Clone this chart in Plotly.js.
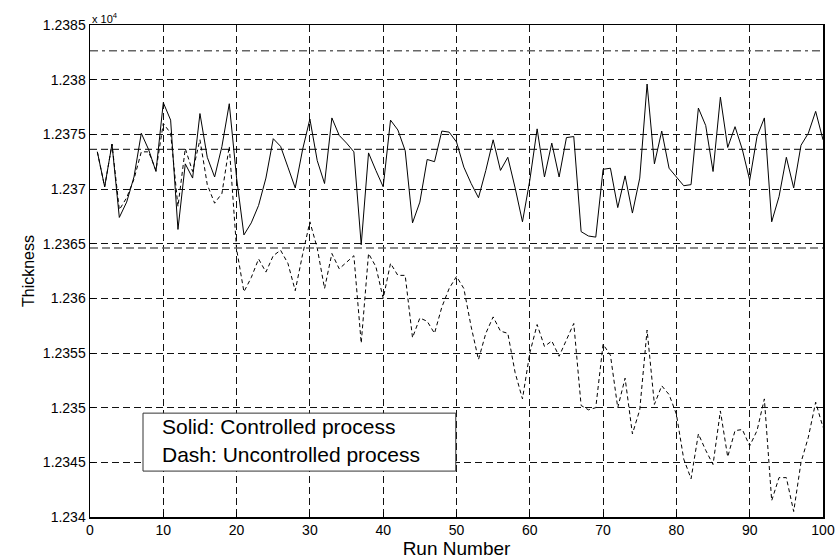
<!DOCTYPE html>
<html>
<head>
<meta charset="utf-8">
<script src="https://cdn.plot.ly/plotly-3.0.1.min.js"></script>
<style>html,body{margin:0;padding:0;background:#fff;}#chart{width:838px;height:560px;}</style>
</head>
<body>
<div id="chart"></div>
<script>
// Run numbers 1..100
const runs = [1,2,3,4,5,6,7,8,9,10,11,12,13,14,15,16,17,18,19,20,21,22,23,24,25,26,27,28,29,30,31,32,33,34,35,36,37,38,39,40,41,42,43,44,45,46,47,48,49,50,51,52,53,54,55,56,57,58,59,60,61,62,63,64,65,66,67,68,69,70,71,72,73,74,75,76,77,78,79,80,81,82,83,84,85,86,87,88,89,90,91,92,93,94,95,96,97,98,99,100];

// Controlled process (solid)
const controlled = [
12373.4,12370.2,12374.1,12367.4,12368.8,12371.1,12375.1,12373.6,12371.6,12377.9,
12376.3,12366.3,12372.3,12371.0,12376.9,12372.9,12371.1,12373.9,12377.8,12371.0,
12365.8,12366.9,12368.5,12371.0,12374.6,12373.9,12372.0,12370.1,12373.6,12376.4,
12372.6,12370.5,12376.5,12374.9,12374.2,12373.4,12364.9,12373.3,12371.7,12370.2,
12376.3,12375.4,12373.5,12366.9,12368.8,12372.7,12372.5,12375.3,12375.2,12374.3,
12372.0,12370.5,12369.2,12371.7,12374.5,12371.7,12372.9,12370.1,12367.0,12370.8,
12375.5,12371.1,12374.2,12371.1,12374.7,12374.8,12366.1,12365.7,12365.6,12371.8,
12371.9,12368.3,12371.2,12367.8,12371.0,12379.6,12372.3,12375.3,12371.9,12371.1,
12370.3,12370.4,12377.4,12375.8,12371.6,12378.4,12373.8,12375.7,12373.6,12370.8,
12374.8,12376.5,12367.0,12369.3,12372.9,12370.1,12374.0,12375.1,12377.1,12374.5];

// Uncontrolled process (dashed)
const uncontrolled = [
12373.4,12370.2,12374.1,12368.1,12369.2,12370.9,12373.4,12373.4,12371.7,12376.0,
12375.1,12368.4,12373.7,12371.6,12374.5,12370.4,12368.7,12369.6,12373.9,12364.5,
12360.6,12361.9,12363.6,12362.4,12363.9,12364.4,12363.2,12360.7,12364.0,12367.0,
12364.6,12360.9,12364.1,12362.7,12363.3,12363.9,12355.9,12364.1,12362.9,12360.0,
12363.2,12362.1,12362.1,12356.4,12358.2,12357.9,12356.8,12359.2,12360.9,12362.0,
12360.9,12357.4,12354.4,12356.8,12358.3,12357.0,12356.8,12353.2,12350.8,12355.0,
12357.6,12355.6,12356.1,12354.7,12356.2,12357.7,12350.2,12349.8,12350.0,12355.8,
12354.8,12350.0,12352.7,12347.6,12349.8,12357.1,12350.3,12352.0,12351.2,12349.4,
12345.3,12343.5,12347.6,12346.1,12344.8,12349.7,12345.5,12347.9,12348.0,12346.5,
12347.9,12350.8,12341.5,12343.6,12343.6,12340.5,12345.0,12347.3,12350.5,12348.2];

// Control limits: upper, center, lower
const limitValues = [12382.65, 12373.63, 12364.61];

// Axis ticks
const yTickVals = [12340,12345,12350,12355,12360,12365,12370,12375,12380,12385];
const yTickText = ['1.234','1.2345','1.235','1.2355','1.236','1.2365','1.237','1.2375','1.238','1.2385'];
const xTickVals = [0,10,20,30,40,50,60,70,80,90,100];

const font = 'Liberation Sans, Arial, Helvetica, sans-serif';

const traces = [
  {x: runs, y: controlled, type: 'scatter', mode: 'lines',
   line: {color: '#000', width: 1}, hoverinfo: 'skip'},
  {x: runs, y: uncontrolled, type: 'scatter', mode: 'lines',
   line: {color: '#000', width: 1, dash: '4px,3px'}, hoverinfo: 'skip'}
];

const limitStyles = [
  {color: '#666', width: 1.4, dash: '8px,4px,3px,4px'},
  {color: '#000', width: 1, dash: '7px,4px'},
  {color: '#666', width: 1.4, dash: '8px,4px'}
];
const shapes = limitValues.map((v, i) => ({
  type: 'line', xref: 'x', yref: 'y', x0: 0, x1: 100, y0: v, y1: v,
  line: limitStyles[i], layer: 'above'
}));
// legend box
shapes.push({type: 'rect', xref: 'x', yref: 'y', x0: 7.23, x1: 49.9, y0: 12344.2, y1: 12349.5,
  fillcolor: '#fff', line: {color: '#333', width: 1}, layer: 'above'});

const axisCommon = {
  showline: true, linecolor: '#000', linewidth: 1.5, mirror: true,
  ticks: 'inside', ticklen: 5, tickcolor: '#000',
  showgrid: true, gridcolor: '#111', gridwidth: 1, griddash: '7px,4px',
  zeroline: false, tickfont: {family: font, size: 14, color: '#000'}
};

const layout = {
  width: 838, height: 560,
  margin: {l: 90, r: 15, t: 25, b: 43},
  paper_bgcolor: '#fff', plot_bgcolor: '#fff',
  showlegend: false,
  xaxis: Object.assign({}, axisCommon, {
    range: [0, 100], tickvals: xTickVals, ticktext: xTickVals.map(String),
    title: {text: 'Run Number', font: {family: font, size: 19, color: '#000'}, standoff: 0}
  }),
  yaxis: Object.assign({}, axisCommon, {
    range: [12340, 12385], tickvals: yTickVals, ticktext: yTickText,
    title: {text: 'Thickness', font: {family: font, size: 16, color: '#000'}, standoff: 4}
  }),
  shapes: shapes,
  annotations: [
    {xref: 'paper', yref: 'paper', x: 0, y: 1, xanchor: 'left', yanchor: 'bottom',
     text: 'x 10<sup>4</sup>', showarrow: false, font: {family: font, size: 11, color: '#000'}, yshift: -2},
    {xref: 'x', yref: 'y', x: 9.6, y: 12348.3, xanchor: 'left', yanchor: 'middle',
     text: 'Solid: Controlled process', showarrow: false, font: {family: font, size: 21, color: '#000'}},
    {xref: 'x', yref: 'y', x: 9.6, y: 12345.7, xanchor: 'left', yanchor: 'middle',
     text: 'Dash: Uncontrolled process', showarrow: false, font: {family: font, size: 21, color: '#000'}}
  ]
};

Plotly.newPlot('chart', traces, layout, {staticPlot: true, displayModeBar: false});
</script>
</body>
</html>
